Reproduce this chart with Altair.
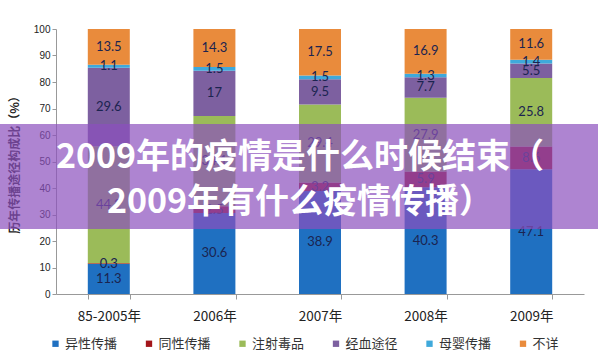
import altair as alt
import pandas as pd

categories = ["85-2005年", "2006年", "2007年", "2008年", "2009年"]
series = ["异性传播", "同性传播", "注射毒品", "经血途径", "母婴传播", "不详"]
colors = ["#1F70C1", "#A3161B", "#9BBB59", "#7D60A0", "#3FA9DB", "#E98B3C"]

hetero = [11.3, 30.6, 38.9, 40.3, 47.1]
homo = [0.3, 2.5, 3.2, 5.9, 8.6]
drugs = [44.2, 34.1, 29.4, 27.9, 25.8]
blood = [29.6, 17, 9.5, 7.7, 5.5]
mother = [1.1, 1.5, 1.5, 1.3, 1.4]
unknown = [13.5, 14.3, 17.5, 16.9, 11.6]

banner_lines = ["2009年的疫情是什么时候结束（", "2009年有什么疫情传播）"]

all_vals = [hetero, homo, drugs, blood, mother, unknown]
rows = []
for si, (s, vals) in enumerate(zip(series, all_vals)):
    for c, v in zip(categories, vals):
        lab = ("%g" % v)
        rows.append({"cat": c, "series": s, "idx": si, "value": v, "label": lab})
df = pd.DataFrame(rows)

W, H = 528, 265
CN = "Noto Sans CJK SC"

yaxis = alt.Axis(title="历年传播途径构成比（%）", titleFont=CN, titleFontSize=12,
                 titleFontWeight="bold", titleColor="#222", titlePadding=12,
                 values=list(range(0, 101, 10)), grid=False, labelOverlap=False,
                 labelFont="Liberation Sans", labelFontSize=10, labelColor="#222",
                 tickSize=4, tickColor="#999", domainColor="#999")

base = alt.Chart(df)

bars = base.mark_bar(size=42).encode(
    x=alt.X("cat:N", sort=categories,
            scale=alt.Scale(paddingInner=0.6, paddingOuter=0.3),
            axis=alt.Axis(title=None, labelAngle=0, labelFont=CN, labelFontSize=13.5,
                          labelColor="#222", tickBand="extent", tickSize=5,
                          tickColor="#999", domainColor="#999", labelPadding=10)),
    y=alt.Y("value:Q", stack="zero",
            scale=alt.Scale(domain=[0, 100], nice=False),
            axis=yaxis),
    color=alt.Color("series:N", sort=series,
                    scale=alt.Scale(domain=series, range=colors),
                    legend=alt.Legend(title=None, orient="none", direction="horizontal",
                                      legendX=-7, legendY=308, columns=6, gridAlign="all",
                                      symbolType="square", symbolSize=40, symbolStrokeWidth=0,
                                      labelFont=CN, labelFontSize=13, labelColor="#333",
                                      labelOffset=3, columnPadding=24.5)),
    order=alt.Order("idx:Q", sort="ascending"),
)

labels = base.transform_stack(
    stack="value", as_=["v0", "v1"], groupby=["cat"],
    sort=[alt.SortField("idx", order="ascending")]
).transform_calculate(mid="(datum.v0 + datum.v1) / 2").mark_text(
    font="Lato", fontSize=13, color="#1b2450"
).encode(
    x=alt.X("cat:N", sort=categories),
    y=alt.Y("mid:Q", axis=yaxis),
    text="label:N",
)

banner = alt.Chart(pd.DataFrame({"a": [0]})).mark_rect(
    color="#8C50BE", opacity=0.7
).encode(
    x=alt.value(-56), x2=alt.value(542), y=alt.value(95), y2=alt.value(200)
)

btext = alt.Chart(pd.DataFrame({"t": banner_lines, "yy": [129, 174]})).mark_text(
    font=CN, fontSize=34, fontWeight="bold", color="white", align="center", baseline="middle"
).encode(
    x=alt.value(244), y=alt.Y("yy:Q", scale=None), text="t:N"
)

chart = alt.layer(bars, labels, banner, btext).properties(
    width=W, height=H,
    padding={"left": 56, "top": 29, "right": 14, "bottom": 61},
    autosize=alt.AutoSizeParams(type="none"),
    background="white",
).configure_view(stroke=None)

chart.save("out.html", embed_options={"renderer": "svg", "actions": False})
